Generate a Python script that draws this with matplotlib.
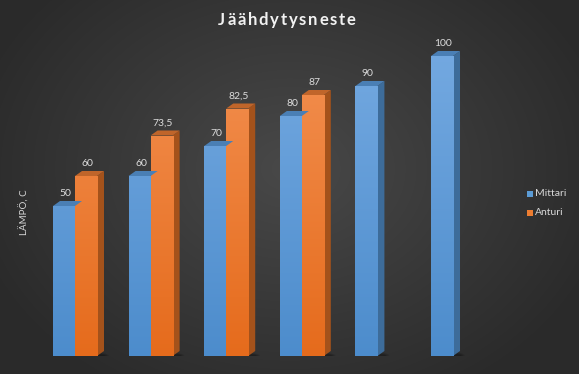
import numpy as np
import matplotlib
matplotlib.use("Agg")
import matplotlib.pyplot as plt
from matplotlib.patches import Polygon, Ellipse, Rectangle

title = "Jäähdytysneste"
ylabel = "LÄMPÖ, C"
series_names = ["Mittari", "Anturi"]
categories = ["1", "2", "3", "4", "5", "6"]
mittari = [50, 60, 70, 80, 90, 100]
anturi = [60, 73.5, 82.5, 87, None, None]

W, H = 579, 374
fig = plt.figure(figsize=(W / 100, H / 100), dpi=100)
plt.rcParams["font.family"] = ["Lato", "DejaVu Sans"]

# background radial gradient
bg = fig.add_axes([0, 0, 1, 1])
yy, xx = np.mgrid[0:H, 0:W]
r = np.sqrt(((xx - W * 0.5) / (W * 0.62)) ** 2 + ((yy - H * 0.45) / (H * 0.75)) ** 2)
v = np.clip(0.285 - 0.13 * r, 0.165, 0.285)
bg.imshow(np.dstack([v, v, v]), aspect="auto", extent=[0, 1, 0, 1])
bg.set_axis_off()

ax = fig.add_axes([40 / W, 18 / H, 480 / W, 330 / H])
ax.set_xlim(-0.463, 5.886)
ax.set_ylim(0, 110)
ax.set_axis_off()
ax.patch.set_alpha(0)

w = 0.291
dx = 7 / 75.6
dy = 5 / 3.0
x = np.arange(len(categories))

styles = {
    "Mittari": dict(top=(0.45, 0.66, 0.88), bot=(0.30, 0.55, 0.80), side="#3d6c9a", cap="#4a7fb5"),
    "Anturi": dict(top=(0.95, 0.56, 0.31), bot=(0.90, 0.42, 0.11), side="#a4521b", cap="#c0652a"),
}

def fmt(v):
    return f"{v:g}".replace(".", ",")

# shadows
for i in range(len(categories)):
    has_a = anturi[i] is not None
    left = x[i] - w
    right = x[i] + (w if has_a else 0)
    for k, a in enumerate([0.10, 0.12, 0.15]):
        e = Ellipse(((left + right) / 2 + dx * 0.8, 0.2), (right - left) + 0.16 - k * 0.04, 2.4 - k * 0.6,
                    color="black", alpha=a, lw=0, zorder=1)
        ax.add_patch(e)

grad = np.linspace(0, 1, 256).reshape(-1, 1)

for name, vals, offs in [("Mittari", mittari, -w / 2), ("Anturi", anturi, w / 2)]:
    st = styles[name]
    cmap = matplotlib.colors.LinearSegmentedColormap.from_list("g", [st["bot"], st["top"]])
    for i, val in enumerate(vals):
        if val is None:
            continue
        x0 = x[i] + offs - w / 2
        x1 = x0 + w
        bars = ax.bar([x[i] + offs], [val], width=w, color=st["bot"], lw=0, zorder=3)
        rect = bars[0]
        im = ax.imshow(grad, extent=[x0, x1, 0, 100], aspect="auto", cmap=cmap, zorder=3.5,
                       vmin=0, vmax=1, origin="lower")
        im.set_clip_path(rect)
        ax.add_patch(Polygon([[x1, 0], [x1 + dx, dy], [x1 + dx, val + dy], [x1, val]],
                             closed=True, color=st["side"], lw=0, zorder=2.9))
        ax.add_patch(Polygon([[x0, val], [x0 + dx, val + dy], [x1 + dx, val + dy], [x1, val]],
                             closed=True, color=st["cap"], lw=0, zorder=4))
        ax.text((x0 + x1) / 2 + dx * 0.2, val + dy + 0.9, fmt(val), ha="center", va="bottom",
                color="#dcdcdc", fontsize=7.5, zorder=5)

# title with letter spacing (measured with renderer)
renderer = fig.canvas.get_renderer()
tkw = dict(color="#f2f2f2", fontsize=12, fontweight="bold", family="Lato")
def prefix_width(s):
    if not s:
        return 0.0
    t = fig.text(0, 0, s, **tkw)
    wd = t.get_window_extent(renderer).width
    t.remove()
    return wd
spacing = 1.8
full = prefix_width(title)
total = full + spacing * (len(title) - 1)
x_start = 287 - total / 2
for i, ch in enumerate(title):
    xp = x_start + prefix_width(title[:i]) + spacing * i
    fig.text(xp / W, 1 - 20 / H, ch, ha="left", va="center", **tkw)

fig.text(25 / W, 1 - 212 / H, ylabel, ha="center", va="center", rotation=90,
         color="#d9d9d9", fontsize=7)

leg_cols = ["#5b9bd5", "#ed7d31"]
for k, (nm, c) in enumerate(zip(series_names, leg_cols)):
    yp = 1 - (194 + 19 * k) / H
    fig.patches.append(Rectangle((527 / W, yp - 2.8 / H), 5.5 / W, 5.5 / H,
                                 transform=fig.transFigure, color=c, lw=0))
    fig.text(535 / W, yp, nm, ha="left", va="center", color="#d9d9d9", fontsize=7.5)

fig.savefig("out.png", dpi=100)
